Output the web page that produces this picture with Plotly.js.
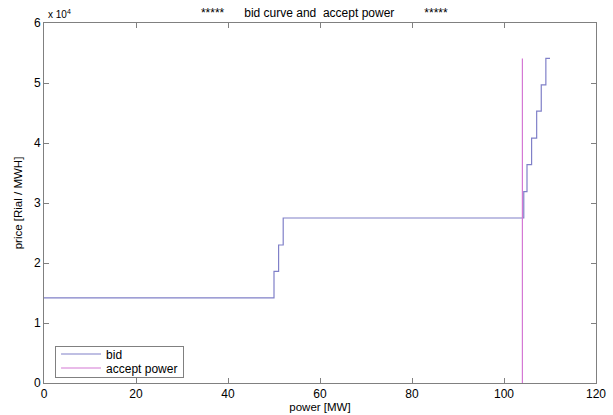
<!DOCTYPE html>
<html>
<head>
<meta charset="utf-8">
<script src="https://cdn.plot.ly/plotly-3.0.1.min.js"></script>
<style>html,body{margin:0;padding:0;background:#fff;}#chart{width:613px;height:415px;}</style>
</head>
<body>
<div id="chart"></div>
<script>
// Bid curve (step function): break points in MW and price levels in Rial/MWH
var bidPower = [0, 50, 50, 51, 51, 52, 52, 104.3, 104.3, 105, 105, 106, 106, 107.1, 107.1, 108.1, 108.1, 109.1, 109.1, 110];
var bidPrice = [14200, 14200, 18600, 18600, 23000, 23000, 27500, 27500, 31900, 31900, 36400, 36400, 40800, 40800, 45300, 45300, 49700, 49700, 54100, 54100];
// Accepted power (vertical line)
var acceptPower = [104, 104];
var acceptPrice = [0, 54100];
// Axis ticks
var xTicks = [0, 20, 40, 60, 80, 100, 120];
var yTickVals = [0, 10000, 20000, 30000, 40000, 50000, 60000];
var yTickText = ['0', '1', '2', '3', '4', '5', '6'];

var fam = 'Liberation Sans, Arial, sans-serif';
var font = {family: fam, size: 11, color: '#000'};

var traces = [
  {x: bidPower, y: bidPrice, mode: 'lines', name: 'bid', line: {color: 'rgb(128,128,200)', width: 1.2}},
  {x: acceptPower, y: acceptPrice, mode: 'lines', name: 'accept power', line: {color: 'rgb(212,120,212)', width: 1.2}}
];

var axisCommon = {
  showgrid: false, zeroline: false, showline: true, linecolor: '#808080', linewidth: 1,
  mirror: 'ticks', ticks: 'inside', ticklen: 5, tickcolor: '#808080', tickfont: {family: fam, size: 12, color: '#000'}
};

var sp = function(n){ return new Array(n + 1).join('&nbsp;'); };

var layout = {
  width: 613, height: 415,
  margin: {l: 44, r: 17, t: 23, b: 32},
  paper_bgcolor: '#fff', plot_bgcolor: '#fff',
  font: font,
  showlegend: true,
  title: {text: '*****' + sp(6) + 'bid curve and ' + sp(1) + 'accept power' + sp(9) + '*****',
    font: {family: fam, size: 12, color: '#000'}, x: 0.529, xanchor: 'center', y: 0.968, yanchor: 'middle'},
  xaxis: Object.assign({}, axisCommon, {range: [0, 120], tickvals: xTicks, ticktext: xTicks.map(String),
    title: {text: 'power [MW]', font: {family: fam, size: 11.5, color: '#000'}, standoff: 1}}),
  yaxis: Object.assign({}, axisCommon, {range: [0, 60000], tickvals: yTickVals, ticktext: yTickText,
    title: {text: 'price [Rial / MWH]', font: {family: fam, size: 11.5, color: '#000'}, standoff: 8}}),
  legend: {x: 0.02, y: 0.017, xanchor: 'left', yanchor: 'bottom', bgcolor: '#fff', bordercolor: '#808080', borderwidth: 1,
    font: {family: fam, size: 12, color: '#000'}, itemwidth: 40, tracegroupgap: 0},
  annotations: [
    {xref: 'paper', yref: 'paper', x: 0, y: 1, xanchor: 'left', yanchor: 'bottom', xshift: 2, yshift: 1, showarrow: false,
     text: 'x 10<sup>4</sup>', font: {family: fam, size: 10, color: '#000'}}
  ]
};

Plotly.newPlot('chart', traces, layout, {displayModeBar: false, staticPlot: true}).then(function(){
  // tighten legend row spacing to match the compact reference legend
  var items = document.querySelectorAll('.legend .traces');
  var step = 14;
  items.forEach(function(el, i){
    el.setAttribute('transform', 'translate(1,' + (8 + i * step) + ')');
  });
  var bg = document.querySelector('.legend .bg');
  var h = 31;
  if (bg) { bg.setAttribute('height', h); }
  var leg = document.querySelector('.legend');
  if (leg) {
    var plotBottom = 415 - 32;
    var tr = leg.getAttribute('transform').match(/translate\(([^,]+),/);
    leg.setAttribute('transform', 'translate(' + tr[1] + ',' + (plotBottom - 6 - h) + ')');
  }
});
</script>
</body>
</html>
